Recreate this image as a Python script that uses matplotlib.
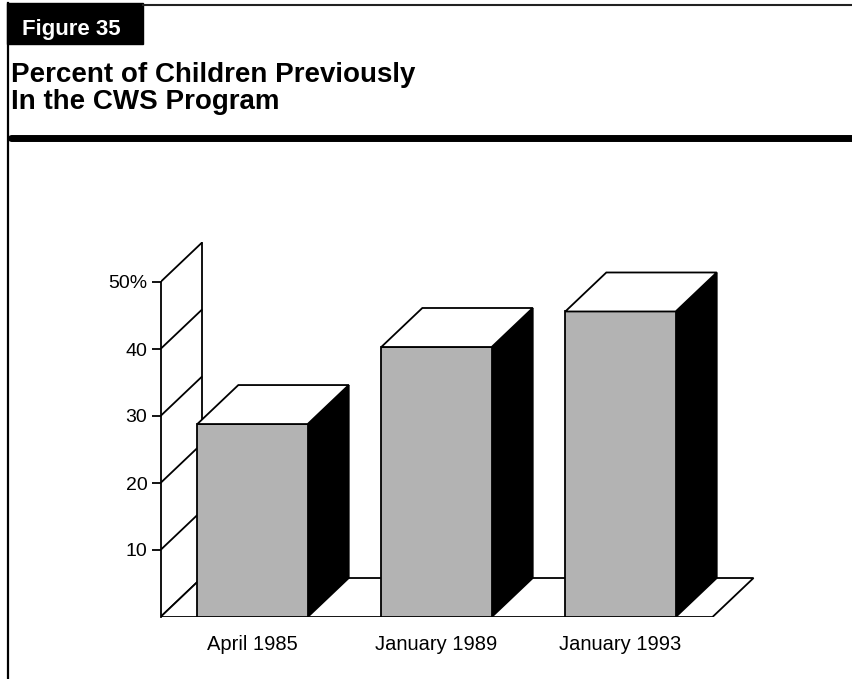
import matplotlib
matplotlib.use("Agg")
import matplotlib.pyplot as plt
from matplotlib.patches import Polygon, Rectangle

plt.rcParams['font.family'] = ['Liberation Sans', 'DejaVu Sans']

# data
categories = ['April 1985', 'January 1989', 'January 1993']
values = [28.8, 40.3, 45.6]
yticks = [10, 20, 30, 40, 50]
ytick_labels = ['10', '20', '30', '40', '50%']

W, H = 852, 679
fig = plt.figure(figsize=(W / 100, H / 100), dpi=100)

# header / frame drawn in pixel units on a full-figure axes
frame = fig.add_axes([0, 0, 1, 1], zorder=0)
frame.set_xlim(0, W)
frame.set_ylim(H, 0)
frame.axis('off')
frame.add_patch(Rectangle((7, 3), 136, 41, color='black'))
frame.plot([143, W], [5, 5], color='#222222', lw=1.5)
frame.plot([8, 8], [3, H], color='black', lw=1.6)
frame.plot([11, W], [137.5, 137.5], color='black', lw=5, solid_capstyle='round')
frame.text(22, 35, 'Figure 35', color='white', fontsize=16, fontweight='bold', va='baseline')
frame.text(11, 82, 'Percent of Children Previously', fontsize=20, fontweight='bold', va='baseline')
frame.text(11, 109, 'In the CWS Program', fontsize=20, fontweight='bold', va='baseline')

# chart axes: 6.7 px per percentage point, 184 px per category
ymax = 56
ax = fig.add_axes([160.5 / W, 62 / H, 598 / W, ymax * 6.7 / H], zorder=1)
ax.set_xlim(-0.5, 2.75)
ax.set_ylim(0, ymax)
ax.patch.set_alpha(0)

lw = 1.3
dx, dy = 0.223, 5.82   # depth offset
bw = 0.6
x0 = -0.5

for s in ['top', 'right', 'bottom']:
    ax.spines[s].set_visible(False)
ax.spines['left'].set_bounds(0, 50)
ax.spines['left'].set_linewidth(lw)
ax.set_yticks(yticks)
ax.set_yticklabels(ytick_labels, fontsize=14)
ax.tick_params(axis='y', length=6.5, width=lw, pad=3)
ax.set_xticks(range(len(categories)))
ax.set_xticklabels(categories, fontsize=14.5)
ax.tick_params(axis='x', length=0, pad=13)

# back wall
ax.plot([x0 + dx, x0 + dx], [dy, 50 + dy], color='black', lw=lw, zorder=1)
for v in [0] + yticks:
    ax.plot([x0, x0 + dx], [v, v + dy], color='black', lw=lw, zorder=1)

# floor
floor = [(x0, 0), (2.5, 0), (2.5 + dx, dy), (x0 + dx, dy)]
ax.add_patch(Polygon(floor, closed=True, facecolor='white', edgecolor='black',
                     lw=lw, joinstyle='miter', zorder=2))

# bars
for i, v in enumerate(values):
    l, r = i - bw / 2, i + bw / 2
    side = [(r, 0), (r + dx, dy), (r + dx, v + dy), (r, v)]
    top = [(l, v), (r, v), (r + dx, v + dy), (l + dx, v + dy)]
    ax.add_patch(Polygon(side, closed=True, facecolor='black', edgecolor='black',
                         lw=lw, joinstyle='miter', zorder=3))
    ax.add_patch(Rectangle((l, 0), bw, v, facecolor='#b3b3b3', edgecolor='black',
                           lw=lw, joinstyle='miter', zorder=4))
    ax.add_patch(Polygon(top, closed=True, facecolor='white', edgecolor='black',
                         lw=lw, joinstyle='miter', zorder=4))

fig.savefig('out.png', dpi=100)
